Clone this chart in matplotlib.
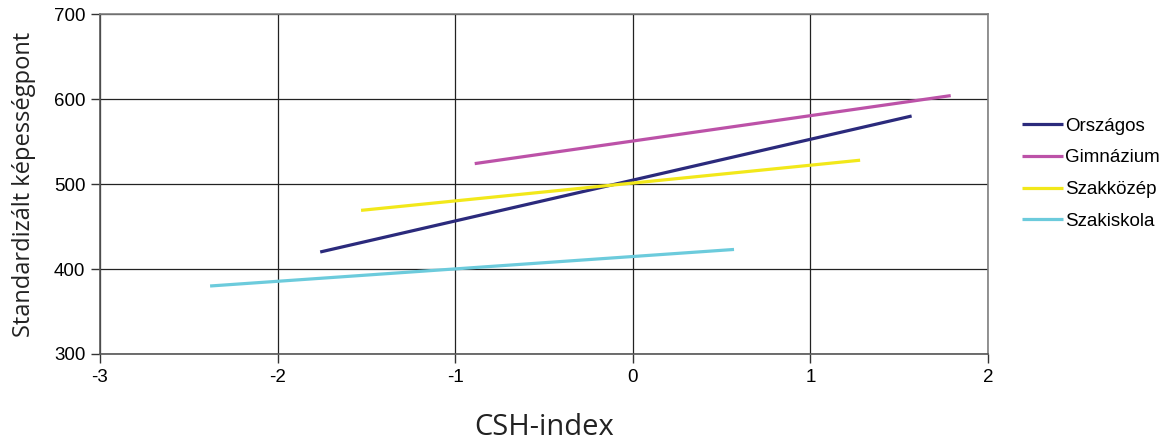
import matplotlib
matplotlib.use('Agg')
import matplotlib.pyplot as plt

# regression lines, start / end points
SERIES_NAMES  = ['Országos', 'Gimnázium', 'Szakközép', 'Szakiskola']
SERIES_COLORS = ['#2b2a7c', '#bc52a8', '#f2e81a', '#6ccbdc']
x_start = [-1.76, -0.89, -1.53, -2.38]
x_end   = [1.57, 1.79, 1.28, 0.57]
y_start = [420, 524, 469, 380]
y_end   = [580, 604, 528, 423]

x_ticks = [-3, -2, -1, 0, 1, 2]
y_ticks = [300, 400, 500, 600, 700]

fig = plt.figure(figsize=(11.72, 4.45), dpi=100)
ax = fig.add_axes([0.0853, 0.2045, 0.7577, 0.764])

for name, color, x0, x1, y0, y1 in zip(SERIES_NAMES, SERIES_COLORS, x_start, x_end, y_start, y_end):
    ax.plot([x0, x1], [y0, y1], color=color, lw=2.3, label=name, solid_capstyle='butt')

ax.set_xlim(-3, 2)
ax.set_ylim(300, 700)
ax.set_xticks(x_ticks)
ax.set_yticks(y_ticks)
ax.set_xticklabels([str(t) for t in x_ticks], family='Liberation Sans', fontsize=13.5)
ax.set_yticklabels([str(t) for t in y_ticks], family='Liberation Sans', fontsize=13.5)
ax.tick_params(direction='out', length=6.5, width=1, color='#333333', pad=4)
ax.grid(True, color='#222222', lw=0.9)
ax.set_axisbelow(True)
for side in ['top', 'right']:
    ax.spines[side].set_color('#808080')
    ax.spines[side].set_linewidth(1.2)
for side in ['left', 'bottom']:
    ax.spines[side].set_color('#555555')
    ax.spines[side].set_linewidth(1.2)

ax.set_xlabel('CSH-index', family='Open Sans', fontsize=21, color='#222222', labelpad=20)
ax.set_ylabel('Standardizált képességpont', family='Open Sans', fontsize=17, color='#222222', labelpad=13)

leg = ax.legend(loc='center left', bbox_to_anchor=(1.038, 0.53), frameon=False,
                borderpad=0, borderaxespad=0,
                prop={'family': 'Liberation Sans', 'size': 13.5},
                handlelength=2.2, handletextpad=0.1, labelspacing=0.78)

fig.savefig('out.png', dpi=100)
